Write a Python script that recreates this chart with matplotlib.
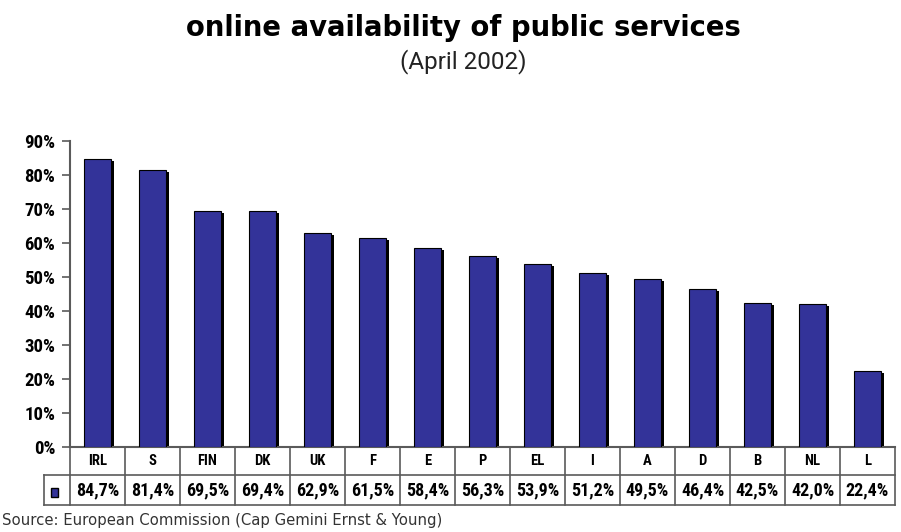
import numpy as np
import matplotlib.pyplot as plt
from matplotlib.patches import Rectangle

# eGovernment: share of basic public services available online, by country
countries = ['IRL', 'S', 'FIN', 'DK', 'UK', 'F', 'E', 'P', 'EL', 'I', 'A', 'D', 'B', 'NL', 'L']
share = [84.7, 81.4, 69.5, 69.4, 62.9, 61.5, 58.4, 56.3, 53.9, 51.2, 49.5, 46.4, 42.5, 42.0, 22.4]
yticks = [0, 10, 20, 30, 40, 50, 60, 70, 80, 90]

BLUE = '#333399'
GRID = '#5a5a5a'
narrow = ['Roboto Condensed', 'Liberation Sans Narrow', 'DejaVu Sans']

W, H = 901, 532
fig = plt.figure(figsize=(W / 100, H / 100), dpi=100)

# axes box in pixel terms
x0, x1 = 70, 895
y_top, y_zero = 141, 447
ax = fig.add_axes([x0 / W, 1 - y_zero / H, (x1 - x0) / W, (y_zero - y_top) / H])

x = np.arange(len(countries))
# drop shadow first, then the bars themselves
ax.bar(x + 0.06, np.array(share) - 0.6, width=0.49, color='black', zorder=2)
ax.bar(x, share, width=0.49, color=BLUE, edgecolor='black', linewidth=0.8, zorder=3)

ax.set_xlim(-0.5, len(countries) - 0.5)
ax.set_ylim(0, 90)
ax.set_yticks(yticks)
ax.set_yticklabels([f'{t}%' for t in yticks], family=narrow, fontweight='bold', fontsize=13.5)
ax.tick_params(axis='y', length=5.5, width=1.2, color=GRID, pad=5)
ax.set_xticks([])
for s in ['top', 'right']:
    ax.spines[s].set_visible(False)
for s in ['left', 'bottom']:
    ax.spines[s].set_color(GRID)
    ax.spines[s].set_linewidth(1.5)

# data table under the axis
def fy(py):
    return 1 - py / H

def fx(px):
    return px / W

row1_bot, row2_bot = 475, 505
col_w = (x1 - x0) / len(countries)
lkw = dict(color=GRID, linewidth=1.2, transform=fig.transFigure)
fig.add_artist(plt.Line2D([fx(44), fx(x1)], [fy(row1_bot)] * 2, **lkw))
fig.add_artist(plt.Line2D([fx(44), fx(x1)], [fy(row2_bot)] * 2, **lkw))
fig.add_artist(plt.Line2D([fx(44), fx(44)], [fy(row1_bot), fy(row2_bot)], **lkw))
for i in range(len(countries) + 1):
    px = x0 + i * col_w
    fig.add_artist(plt.Line2D([fx(px), fx(px)], [fy(y_zero), fy(row2_bot)], **lkw))

for i, (c, v) in enumerate(zip(countries, share)):
    cx = fx(x0 + (i + 0.5) * col_w)
    fig.text(cx, fy((y_zero + row1_bot) / 2), c, ha='center', va='center',
             family=narrow, fontweight='bold', fontsize=10.5)
    fig.text(cx, fy((row1_bot + row2_bot) / 2), f'{v:.1f}%'.replace('.', ','),
             ha='center', va='center', family=narrow, fontweight='bold', fontsize=13)

# legend key
fig.add_artist(Rectangle((fx(51), fy(497)), 7 / W, 9 / H, facecolor=BLUE,
                         edgecolor='black', linewidth=1, transform=fig.transFigure))

fig.text(0.514, fy(28), 'online availability of public services', ha='center', va='center',
         fontsize=19.8, fontweight='bold', family='DejaVu Sans')
fig.text(0.514, fy(62), '(April 2002)', ha='center', va='center',
         fontsize=17.5, family=['Roboto', 'DejaVu Sans'], color='#222222')
fig.text(0.002, fy(521), 'Source: European Commission (Cap Gemini Ernst & Young)',
         ha='left', va='center', fontsize=10.7, color='#333333', family='DejaVu Sans')

fig.savefig('out.png', dpi=100)
